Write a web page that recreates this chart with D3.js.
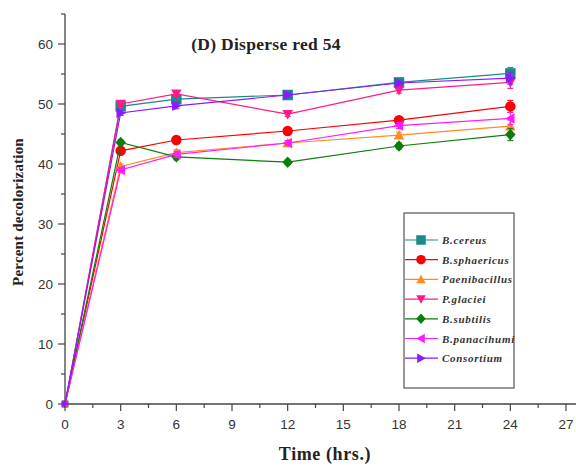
<!DOCTYPE html>
<html><head><meta charset="utf-8">
<script src="https://cdn.jsdelivr.net/npm/d3@7"></script>
<style>body{margin:0;background:#fff}svg{display:block}</style>
</head><body>
<svg id="c" width="576" height="466"></svg>
<script>
const times = [0, 3, 6, 12, 18, 24];
const seriesNames = ["B.cereus","B.sphaericus","Paenibacillus","P.glaciei","B.subtilis","B.panacihumi","Consortium"];
const bCereus      = [0, 49.6, 50.8, 51.5, 53.6, 55.1];
const bSphaericus  = [0, 42.2, 44.0, 45.5, 47.3, 49.6];
const paenibacillus= [0, 39.6, 41.9, 43.5, 44.8, 46.3];
const pGlaciei     = [0, 50.0, 51.7, 48.3, 52.3, 53.6];
const bSubtilis    = [0, 43.6, 41.2, 40.3, 43.0, 44.9];
const bPanacihumi  = [0, 39.0, 41.6, 43.5, 46.4, 47.6];
const consortium   = [0, 48.5, 49.7, 51.5, 53.5, 54.3];
const errors       = [0, 0.4, 0.5, 0.4, 0.5, 1.0];
const colors = ["#1a8a8a","#ff0000","#ff8c1a","#ff1a85","#0a7d0a","#ff1aff","#8a1aff"];
const shapes = ["square","circle","triUp","triDown","diamond","triLeft","triRight"];
const xTicks = [0,3,6,9,12,15,18,21,24,27];
const yTicks = [0,10,20,30,40,50,60];
const allValues = [bCereus,bSphaericus,paenibacillus,pGlaciei,bSubtilis,bPanacihumi,consortium];

const svg = d3.select("#c");
const x = d3.scaleLinear().domain([0,27]).range([65,566]);
const y = d3.scaleLinear().domain([0,60]).range([404,44]);

// axes
const gx = svg.append("g").attr("transform","translate(0,404)");
gx.append("line").attr("x1",x(0)).attr("x2",576).attr("stroke","#444").attr("stroke-width",1.3);
const xMinor = d3.range(0,27.6,1.5);
gx.selectAll(".mx").data(xMinor).join("line").attr("x1",d=>x(d)).attr("x2",d=>x(d))
  .attr("y1",0).attr("y2",d=>d%3===0?7:4).attr("stroke","#444").attr("stroke-width",1.2);
gx.selectAll(".lx").data(xTicks).join("text").attr("x",d=>x(d)).attr("y",25)
  .attr("text-anchor","middle").attr("font-family","Liberation Sans, Arial, sans-serif")
  .attr("font-size",13.5).attr("fill","#333").text(d=>d);

const gy = svg.append("g").attr("transform","translate(65,0)");
gy.append("line").attr("y1",y(0)).attr("y2",y(65)).attr("stroke","#444").attr("stroke-width",1.3);
const yMinor = d3.range(0,65.1,5);
gy.selectAll(".my").data(yMinor).join("line").attr("y1",d=>y(d)).attr("y2",d=>y(d))
  .attr("x1",0).attr("x2",d=>d%10===0?-7:-4).attr("stroke","#444").attr("stroke-width",1.2);
gy.selectAll(".ly").data(yTicks).join("text").attr("x",-12).attr("y",d=>y(d)+5)
  .attr("text-anchor","end").attr("font-family","Liberation Sans, Arial, sans-serif")
  .attr("font-size",13.5).attr("fill","#333").text(d=>d);

// labels
svg.append("text").attr("x",325).attr("y",460).attr("text-anchor","middle")
  .attr("font-family","Liberation Serif, Times New Roman, serif").attr("font-weight","bold")
  .attr("font-size",18).attr("letter-spacing",0.6).attr("fill","#222").text("Time (hrs.)");
svg.append("text").attr("transform","translate(23,212) rotate(-90)").attr("text-anchor","middle")
  .attr("font-family","Liberation Serif, Times New Roman, serif").attr("font-weight","bold")
  .attr("font-size",15).attr("letter-spacing",0.2).attr("fill","#222").text("Percent decolorization");
svg.append("text").attr("x",266).attr("y",50).attr("text-anchor","middle")
  .attr("font-family","Liberation Serif, Times New Roman, serif").attr("font-weight","bold")
  .attr("font-size",17.5).attr("letter-spacing",0.3).attr("fill","#222").text("(D) Disperse red 54");

function symbolPath(shape, s){
  const h = s/2;
  switch(shape){
    case "square": return `M${-h},${-h}H${h}V${h}H${-h}Z`;
    case "circle": return d3.symbol().type(d3.symbolCircle).size(Math.PI*h*h)();
    case "triUp": return `M0,${-h}L${h},${h*0.8}L${-h},${h*0.8}Z`;
    case "triDown": return `M0,${h}L${h},${-h*0.8}L${-h},${-h*0.8}Z`;
    case "diamond": return `M0,${-h*1.1}L${h},0L0,${h*1.1}L${-h},0Z`;
    case "triLeft": return `M${-h},0L${h*0.8},${-h}L${h*0.8},${h}Z`;
    case "triRight": return `M${h},0L${-h*0.8},${-h}L${-h*0.8},${h}Z`;
  }
}

const line = d3.line().x((d,i)=>x(times[i])).y(d=>y(d));
allValues.forEach((vals,k)=>{
  const g = svg.append("g");
  g.append("path").attr("d",line(vals)).attr("fill","none").attr("stroke",colors[k]).attr("stroke-width",1.2);
  g.selectAll(".eb").data(vals).join("path")
    .attr("d",(d,i)=>{const xx=x(times[i]),e=errors[i];return `M${xx},${y(d-e)}V${y(d+e)}M${xx-3},${y(d-e)}H${xx+3}M${xx-3},${y(d+e)}H${xx+3}`;})
    .attr("stroke",colors[k]).attr("stroke-width",1).attr("fill","none");
  g.selectAll(".pt").data(vals).join("path")
    .attr("transform",(d,i)=>`translate(${x(times[i])},${y(d)})`)
    .attr("d",(d,i)=>symbolPath(shapes[k], i===0?7:10.5)).attr("fill",colors[k]);
});

// legend
const lg = svg.append("g");
lg.append("rect").attr("x",404).attr("y",213).attr("width",110).attr("height",175)
  .attr("fill","#fff").attr("stroke","#333").attr("stroke-width",1);
seriesNames.forEach((n,k)=>{
  const yy = 240 + k*19.7;
  lg.append("line").attr("x1",405).attr("x2",438).attr("y1",yy).attr("y2",yy).attr("stroke",colors[k]).attr("stroke-width",1.2);
  lg.append("path").attr("transform",`translate(421,${yy})`).attr("d",symbolPath(shapes[k],9.5)).attr("fill",colors[k]);
  lg.append("text").attr("x",442).attr("y",yy+4).attr("font-family","Liberation Serif, Times New Roman, serif")
    .attr("font-style","italic").attr("font-weight","bold").attr("font-size",11).attr("letter-spacing",0.7)
    .attr("fill","#333").text(n);
});
</script>
</body></html>
